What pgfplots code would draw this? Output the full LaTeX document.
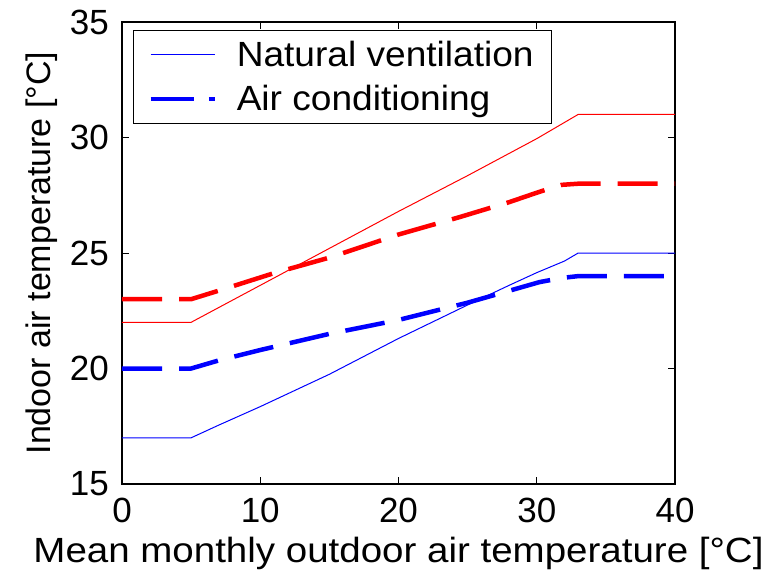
\documentclass[border=0pt]{standalone}
\usepackage{fontspec}
\setmainfont{Liberation Sans}
\newfontfamily\xlabfont{Liberation Sans}[FakeStretch=1.10]
\newfontfamily\legfont{Liberation Sans}[FakeStretch=1.06]
\usepackage{pgfplots}
\pgfplotsset{compat=1.18}
\newcommand{\bigf}{\fontsize{35}{40}\selectfont}
\begin{document}
\begin{tikzpicture}
\begin{axis}[name=ax, scale only axis, width=553pt, height=462pt,
  xmin=0, xmax=40, ymin=15, ymax=35,
  xtick={0,10,20,30,40}, ytick={15,20,25,30,35},
  tick align=inside, tick pos=both, major tick length=7pt,
  axis line style={line width=1.3pt},
  every tick/.style={black, line width=0.8pt},
  /pgf/number format/assume math mode=true,
  ticklabel style={font=\bigf},
  xticklabel style={inner sep=14pt},
  yticklabel style={inner sep=13pt},
  xlabel style={font=\xlabfont\bigf, yshift=3pt},
  ylabel style={font=\fontsize{34}{40}\selectfont, yshift=-4pt},
  xlabel={Mean monthly outdoor air temperature [°C]},
  ylabel={Indoor air temperature [°C]},
  legend style={font=\legfont\bigf, at={(0,1)}, anchor=north west, xshift=11pt, yshift=-8pt,
    draw=black, line width=1pt, inner xsep=15pt, inner ysep=7pt, row sep=9pt,
    nodes={inner xsep=3pt, inner ysep=4pt}, cells={anchor=west}},
  legend image code/.code={\draw[#1] (0pt,0pt) -- (64pt,0pt); \path[draw=none, fill=none] (0pt,0pt) -- (83pt,0pt);},
]
\addlegendimage{blue, line width=1pt}
\addlegendentry{Natural ventilation}
\addlegendimage{blue, line width=4.5pt, dash pattern=on 43pt off 15pt}
\addlegendentry{Air conditioning}
% natural ventilation upper
\addplot[red, line width=1pt, forget plot] coordinates {(0,22) (5,22) (10,23.6) (15,25.2) (20,26.8) (25,28.35) (30,29.95) (33,31) (40,31)};
% natural ventilation lower
\addplot[blue, line width=1pt, forget plot] coordinates {(0,17) (5,17) (7,17.55) (10,18.35) (15,19.75) (20,21.3) (25,22.75) (28,23.6) (30,24.15) (32,24.65) (33,25) (40,25)};
% air conditioning upper
\addplot[red, line width=4.5pt, dash pattern=on 40pt off 17pt, forget plot] coordinates {(0,23) (5,23) (7,23.37) (11,24.13) (15,24.8) (20,25.8) (24.4,26.55) (28,27.2) (30.2,27.65) (31.8,27.95) (33,28) (40,28)};
% air conditioning lower
\addplot[blue, line width=4.5pt, dash pattern=on 40pt off 17pt, forget plot] coordinates {(0,20) (5,20) (7,20.35) (10,20.8) (15,21.5) (20,22.1) (25,22.85) (30.2,23.74) (31.8,23.92) (33,24) (40,24)};
\end{axis}
\pgfresetboundingbox
\path[use as bounding box] ([shift={(-122pt,-86pt)}]ax.south west) rectangle ([shift={(94pt,22pt)}]ax.north east);
\end{tikzpicture}
\end{document}
